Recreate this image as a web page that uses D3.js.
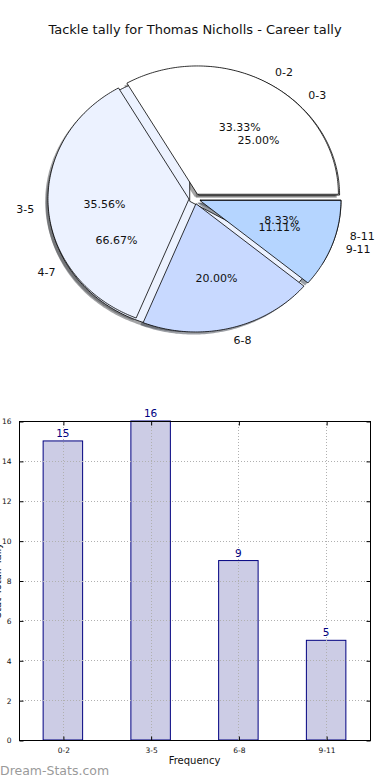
<!DOCTYPE html>
<html>
<head>
<meta charset="utf-8">
<script src="https://cdn.jsdelivr.net/npm/d3@7"></script>
<style>
body { margin: 0; background: #fff; }
svg { display: block; font-family: "DejaVu Sans", sans-serif; }
</style>
</head>
<body>
<svg id="chart" width="390" height="780"></svg>
<script>
// data
var title = "Tackle tally for Thomas Nicholls - Career tally";
var pieCats = ["0-2", "3-5", "6-8", "9-11"];
var pieValues = [15, 16, 9, 5];
var pie2Cats = ["0-3", "4-7", "8-11"];
var pie2Values = [3, 8, 1];
var pieColors = ["#ffffff", "#ecf2ff", "#c8d9ff", "#b5d5ff"];
var barCats = ["0-2", "3-5", "6-8", "9-11"];
var barValues = [15, 16, 9, 5];
var yTicks = [0, 2, 4, 6, 8, 10, 12, 14, 16];

var svg = d3.select("#chart");

svg.append("text")
    .attr("x", 195).attr("y", 34)
    .attr("text-anchor", "middle")
    .attr("font-size", 13)
    .attr("fill", "#111")
    .text(title);

// pie (elliptical, like matplotlib with non-equal axes)
var cx = 194.6, cy = 198.7, rx = 141, ry = 128.3;
var explode = 0.04;
var px = d3.scaleLinear().domain([-1, 1]).range([cx - rx, cx + rx]);
var py = d3.scaleLinear().domain([-1, 1]).range([cy + ry, cy - ry]);

var line = d3.line().x(function(d){ return px(d[0]); }).y(function(d){ return py(d[1]); });

function wedges(values)
{
    var total = d3.sum(values);
    var out = [];
    var t1 = 0;
    for(var i=0; i<values.length; i++)
    {
        var t2 = t1 + values[i]/total;
        out.push({i: i, a1: t1*2*Math.PI, a2: t2*2*Math.PI, am: (t1+t2)*Math.PI, frac: values[i]/total});
        t1 = t2;
    }
    return out;
}

function wedgePoints(w, ox, oy)
{
    var x0 = explode*Math.cos(w.am) + ox;
    var y0 = explode*Math.sin(w.am) + oy;
    var pts = [[x0, y0]];
    var n = Math.max(8, Math.ceil((w.a2 - w.a1)*60));
    for(var k=0; k<=n; k++)
    {
        var a = w.a1 + (w.a2 - w.a1)*k/n;
        pts.push([x0 + Math.cos(a), y0 + Math.sin(a)]);
    }
    pts.push([x0, y0]);
    return pts;
}

var w1 = wedges(pieValues);
var w2 = wedges(pie2Values);

var pieG = svg.append("g");

// shadows first
[w2, w1].forEach(function(ws){
    ws.forEach(function(w){
        var c = d3.rgb(pieColors[w.i]);
        pieG.append("path")
            .attr("d", line(wedgePoints(w, -0.02, -0.02)))
            .attr("fill", d3.rgb(c.r*0.3, c.g*0.3, c.b*0.3))
            .attr("fill-opacity", 0.5)
            .attr("stroke", "none");
    });
});

[w2, w1].forEach(function(ws){
    ws.forEach(function(w){
        pieG.append("path")
            .attr("d", line(wedgePoints(w, 0, 0)))
            .attr("fill", pieColors[w.i])
            .attr("stroke", "#000")
            .attr("stroke-width", 0.8)
            .attr("stroke-linejoin", "miter");
    });
});

function pieLabels(ws, cats)
{
    ws.forEach(function(w){
        var x0 = explode*Math.cos(w.am), y0 = explode*Math.sin(w.am);
        var xt = x0 + 1.1*Math.cos(w.am), yt = y0 + 1.1*Math.sin(w.am);
        pieG.append("text")
            .attr("x", px(xt)).attr("y", py(yt))
            .attr("dy", "0.35em")
            .attr("text-anchor", xt > 0 ? "start" : "end")
            .attr("font-size", 11)
            .attr("fill", "#111")
            .text(cats[w.i]);
        var xp = x0 + 0.6*Math.cos(w.am), yp = y0 + 0.6*Math.sin(w.am);
        pieG.append("text")
            .attr("x", px(xp)).attr("y", py(yp))
            .attr("dy", "0.35em")
            .attr("text-anchor", "middle")
            .attr("font-size", 11)
            .attr("fill", "#111")
            .text((w.frac*100).toFixed(2) + "%");
    });
}
pieLabels(w1, pieCats);
pieLabels(w2, pie2Cats);

// bar chart
var axLeft = 19, axRight = 370, axTop = 421, axBottom = 740;
var x = d3.scalePoint().domain(barCats).range([axLeft, axRight]).padding(0.5);
var y = d3.scaleLinear().domain([0, 16]).range([axBottom, axTop]);
var barW = x.step()*0.45;

var barG = svg.append("g");

barG.selectAll("rect.bar")
    .data(barValues)
    .enter().append("rect")
    .attr("class", "bar")
    .attr("x", function(d, i){ return x(barCats[i]) - barW/2; })
    .attr("y", function(d){ return y(d); })
    .attr("width", barW)
    .attr("height", function(d){ return y(0) - y(d); })
    .attr("fill", "#ccccE5")
    .attr("stroke", "#000080")
    .attr("stroke-width", 1);

// grid
yTicks.forEach(function(t){
    barG.append("line")
        .attr("x1", axLeft).attr("x2", axRight)
        .attr("y1", Math.round(y(t)) + 0.5).attr("y2", Math.round(y(t)) + 0.5)
        .attr("stroke", "#b0b0b0").attr("stroke-width", 1)
        .attr("stroke-dasharray", "1,2");
});
barCats.forEach(function(c){
    barG.append("line")
        .attr("x1", Math.round(x(c)) + 0.5).attr("x2", Math.round(x(c)) + 0.5)
        .attr("y1", axTop).attr("y2", axBottom)
        .attr("stroke", "#b0b0b0").attr("stroke-width", 1)
        .attr("stroke-dasharray", "1,2");
});

// value labels
barG.selectAll("text.val")
    .data(barValues)
    .enter().append("text")
    .attr("class", "val")
    .attr("x", function(d, i){ return x(barCats[i]); })
    .attr("y", function(d){ return y(d) - 4; })
    .attr("text-anchor", "middle")
    .attr("font-size", 10.5)
    .attr("fill", "#000080")
    .text(function(d){ return d; });

// frame
barG.append("rect")
    .attr("x", axLeft + 0.5).attr("y", axTop + 0.5)
    .attr("width", axRight - axLeft).attr("height", axBottom - axTop)
    .attr("fill", "none").attr("stroke", "#000").attr("stroke-width", 1);

// axes with inward ticks
var yAxisL = d3.axisLeft(y).tickValues(yTicks).tickSize(-4).tickPadding(8);
var yAxisR = d3.axisRight(y).tickValues(yTicks).tickSize(-4).tickFormat("");
var xAxisB = d3.axisBottom(x).tickSize(-4).tickPadding(7);
var xAxisT = d3.axisTop(x).tickSize(-4).tickFormat("");

function styleAxis(g)
{
    g.select(".domain").remove();
    g.selectAll("text").attr("font-size", 7.5).attr("fill", "#111").attr("font-family", "DejaVu Sans");
    g.selectAll("line").attr("stroke", "#000");
}
barG.append("g").attr("transform", "translate(" + (axLeft + 0.5) + ",0.5)").call(yAxisL).call(styleAxis);
barG.append("g").attr("transform", "translate(" + (axRight + 0.5) + ",0.5)").call(yAxisR).call(styleAxis);
barG.append("g").attr("transform", "translate(0.5," + (axBottom + 0.5) + ")").call(xAxisB).call(styleAxis);
barG.append("g").attr("transform", "translate(0.5," + (axTop + 0.5) + ")").call(xAxisT).call(styleAxis);

svg.append("text")
    .attr("x", (axLeft + axRight)/2).attr("y", 764)
    .attr("text-anchor", "middle")
    .attr("font-size", 10)
    .attr("fill", "#111")
    .text("Frequency");

svg.append("text")
    .attr("transform", "translate(1," + ((axTop + axBottom)/2) + ") rotate(-90)")
    .attr("text-anchor", "middle")
    .attr("font-size", 10)
    .attr("fill", "#111")
    .text("Stat Total: Tally");

svg.append("text")
    .attr("x", 0).attr("y", 775)
    .attr("font-size", 12.5)
    .attr("fill", "#9a9a9a")
    .text("Dream-Stats.com");
</script>
</body>
</html>
